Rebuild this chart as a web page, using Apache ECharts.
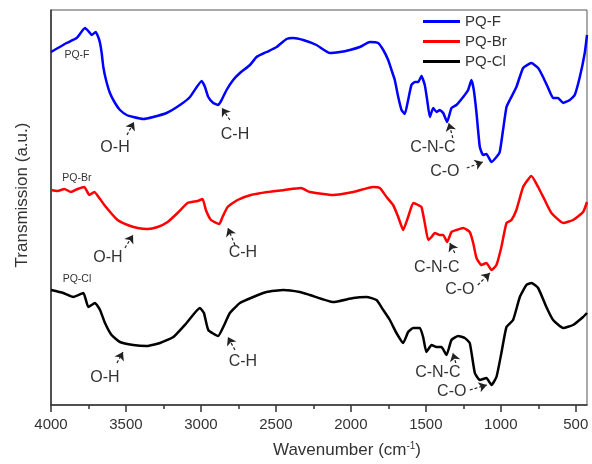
<!DOCTYPE html>
<html>
<head>
<meta charset="utf-8">
<script src="https://cdn.jsdelivr.net/npm/echarts@6/dist/echarts.min.js"></script>
<style>
  html, body { margin: 0; padding: 0; background: #fff; }
  #chart { width: 592px; height: 464px; }
</style>
</head>
<body>
<div id="chart"></div>
<script>
// FTIR transmission spectra, stacked with vertical offsets (arbitrary units)
const seriesNames = ['PQ-F', 'PQ-Br', 'PQ-Cl'];

// PQ-F (blue)
const fWave  = [4000, 3896, 3829, 3773, 3740, 3729, 3702, 3685, 3673, 3662, 3651, 3633, 3607, 3573, 3540, 3495, 3451, 3384, 3318, 3229, 3140, 3073, 2995, 2973, 2951, 2918, 2885, 2862, 2829, 2785, 2740, 2673, 2629, 2562, 2495, 2429, 2385, 2318, 2229, 2140, 2073, 2007, 1940, 1873, 1818, 1784, 1751, 1729, 1707, 1684, 1662, 1640, 1618, 1596, 1573, 1551, 1529, 1507, 1491, 1473, 1451, 1429, 1407, 1384, 1358, 1329, 1296, 1251, 1218, 1196, 1180, 1162, 1140, 1118, 1096, 1062, 1029, 1007, 985, 962, 940, 896, 851, 796, 751, 718, 684, 651, 618, 584, 540, 507, 473, 440, 425];
const fValue = [353, 362, 367, 377, 372, 370, 373, 368, 362, 352, 338, 325, 312, 302, 295, 290, 288, 286, 288, 292, 300, 308, 324, 318, 308, 302, 300, 305, 315, 325, 332, 340, 348, 353, 358, 366, 367, 365, 360, 352, 353, 355, 358, 363, 362, 355, 345, 335, 325, 308, 295, 291, 305, 320, 323, 323, 329, 320, 305, 288, 297, 293, 295, 292, 283, 297, 300, 308, 315, 325, 315, 292, 258, 250, 251, 243, 248, 253, 275, 298, 305, 318, 337, 342, 337, 328, 317, 307, 307, 302, 305, 310, 328, 352, 370];

// PQ-Br (red)
const brWave  = [4000, 3956, 3911, 3867, 3822, 3778, 3744, 3711, 3678, 3644, 3600, 3556, 3489, 3422, 3356, 3289, 3222, 3156, 3089, 3022, 2989, 2967, 2933, 2878, 2856, 2822, 2756, 2667, 2556, 2444, 2333, 2273, 2118, 1984, 1851, 1807, 1762, 1718, 1684, 1651, 1618, 1584, 1551, 1529, 1507, 1484, 1462, 1440, 1407, 1384, 1358, 1329, 1296, 1251, 1207, 1184, 1162, 1129, 1096, 1062, 1029, 996, 962, 929, 896, 851, 796, 751, 707, 662, 584, 518, 451, 425];
const brValue = [215, 214, 216, 213, 216, 218, 210, 213, 207, 200, 192, 185, 180, 177, 176, 178, 183, 192, 202, 204, 206, 195, 185, 181, 188, 198, 205, 210, 213, 215, 217, 213, 210, 213, 218, 217, 208, 200, 188, 175, 188, 202, 200, 198, 182, 165, 168, 172, 170, 170, 163, 173, 175, 177, 173, 162, 147, 140, 142, 135, 140, 158, 182, 185, 195, 218, 229, 218, 205, 192, 182, 185, 193, 203];

// PQ-Cl (black)
const clWave  = [4000, 3918, 3851, 3784, 3751, 3707, 3673, 3640, 3596, 3540, 3451, 3362, 3273, 3184, 3096, 3007, 2980, 2951, 2885, 2851, 2807, 2740, 2651, 2562, 2451, 2340, 2273, 2118, 1984, 1896, 1829, 1784, 1740, 1696, 1651, 1618, 1584, 1540, 1518, 1496, 1462, 1429, 1396, 1362, 1329, 1284, 1240, 1207, 1173, 1140, 1096, 1062, 1029, 996, 962, 918, 873, 829, 796, 751, 696, 651, 584, 518, 451, 425];
const clValue = [115, 112, 108, 112, 98, 102, 95, 82, 70, 63, 60, 59, 62, 68, 82, 97, 92, 75, 69, 78, 92, 102, 108, 113, 115, 113, 110, 103, 107, 108, 105, 95, 85, 72, 62, 73, 77, 77, 68, 53, 60, 58, 58, 50, 65, 69, 67, 62, 32, 25, 27, 20, 28, 52, 78, 85, 108, 120, 122, 117, 98, 85, 77, 80, 88, 92];

// Band assignments: label anchor and arrow (tail -> head) in data coordinates
const fBands = [
  { text: 'O-H',   at: [3573, 257], tail: [3493, 270], head: [3447, 283] },
  { text: 'C-H',   at: [2773, 270], tail: [2807, 285], head: [2860, 297] },
  { text: 'C-N-C', at: [1453, 257], tail: [1320, 267], head: [1347, 282] },
  { text: 'C-O',   at: [1373, 233], tail: [1227, 237], head: [1120, 243] }
];
const brBands = [
  { text: 'O-H',   at: [3620, 147], tail: [3507, 157], head: [3453, 170] },
  { text: 'C-H',   at: [2720, 152], tail: [2773, 160], head: [2820, 177] },
  { text: 'C-N-C', at: [1427, 137], tail: [1307, 152], head: [1340, 162] },
  { text: 'C-O',   at: [1273, 115], tail: [1153, 120], head: [1073, 132] }
];
const clBands = [
  { text: 'O-H',   at: [3640, 27], tail: [3560, 42], head: [3520, 53] },
  { text: 'C-H',   at: [2720, 43], tail: [2773, 55], head: [2820, 68] },
  { text: 'C-N-C', at: [1420, 32], tail: [1300, 42], head: [1320, 52] },
  { text: 'C-O',   at: [1327, 13], tail: [1207, 15], head: [1093, 20] }
];

// Sample tags next to each trace
const tagPos = [[3827, 350], [3827, 227], [3827, 126]];

// Tick values on the wavenumber axis
const majorTicks = [4000, 3500, 3000, 2500, 2000, 1500, 1000, 500];
const minorTicks = [3750, 3250, 2750, 2250, 1750, 1250, 750];

const colors = ['#0000ff', '#ff0000', '#000000'];
const waves = [fWave, brWave, clWave];
const values = [fValue, brValue, clValue];
const bands = [fBands, brBands, clBands];

const textColor = '#333';
const font = 'Liberation Sans, Arial, sans-serif';

function zip(a, b) { return a.map((x, i) => [x, b[i]]); }

const series = seriesNames.map((name, i) => ({
  name: name,
  type: 'line',
  data: zip(waves[i], values[i]),
  showSymbol: false,
  symbol: 'none',
  smooth: 0.15,
  lineStyle: { color: colors[i], width: 2.5, join: 'round' },
  itemStyle: { color: colors[i] },
  z: 3,
  markLine: {
    silent: true,
    symbol: ['none', 'arrow'],
    symbolSize: 8,
    label: { show: false },
    lineStyle: { color: '#222', width: 1.2, type: [3, 2] },
    data: bands[i].map(b => [{ coord: b.tail }, { coord: b.head }])
  },
  markPoint: {
    silent: true,
    symbol: 'circle',
    symbolSize: 0,
    data: bands[i].map(b => ({
      name: b.text, coord: b.at,
      label: { show: true, position: 'inside', formatter: '{b}', color: textColor, fontSize: 16, fontFamily: font }
    })).concat([{
      name: name, coord: tagPos[i],
      label: { show: true, position: 'inside', formatter: '{b}', color: textColor, fontSize: 10.5, fontFamily: font }
    }])
  }
}));

const chart = echarts.init(document.getElementById('chart'), null, { renderer: 'canvas' });
chart.setOption({
  animation: false,
  backgroundColor: '#fff',
  grid: { left: 51, right: 5, top: 10, bottom: 59, show: true, borderColor: '#555', borderWidth: 1 },
  legend: {
    data: seriesNames,
    orient: 'vertical',
    left: 418,
    top: 9,
    icon: 'rect',
    itemWidth: 37,
    itemHeight: 3,
    itemGap: 5,
    textStyle: { color: textColor, fontSize: 15, fontFamily: font, lineHeight: 15 }
  },
  xAxis: [
    {
      type: 'value',
      inverse: true,
      min: 425,
      max: 4000,
      position: 'bottom',
      axisLine: { show: true, lineStyle: { color: '#333', width: 1.5 } },
      axisTick: { show: true, customValues: majorTicks, length: 7, lineStyle: { color: '#333', width: 1.5 } },
      axisLabel: { show: true, customValues: majorTicks, formatter: v => String(v), color: textColor, fontSize: 15, fontFamily: font, margin: 12 },
      splitLine: { show: false },
      name: 'Wavenumber (cm{sup|-1})',
      nameLocation: 'middle',
      nameGap: 36,
      nameTextStyle: {
        color: textColor, fontSize: 17, fontFamily: font, padding: [0, 0, 0, 56],
        rich: { sup: { fontSize: 10, verticalAlign: 'top', padding: [0, 0, 8, 0], color: textColor, fontFamily: font } }
      }
    },
    {
      type: 'value',
      inverse: true,
      min: 425,
      max: 4000,
      position: 'bottom',
      axisLine: { show: false },
      axisTick: { show: true, customValues: minorTicks, length: 4, lineStyle: { color: '#333', width: 1.5 } },
      axisLabel: { show: false },
      splitLine: { show: false }
    }
  ],
  yAxis: {
    type: 'value',
    min: 0,
    max: 395,
    axisLine: { show: true, lineStyle: { color: '#333', width: 1.5 } },
    axisTick: { show: false },
    axisLabel: { show: false },
    splitLine: { show: false }
  },
  graphic: [{
    type: 'text',
    x: 22,
    y: 195,
    rotation: Math.PI / 2,
    style: {
      text: 'Transmission (a.u.)',
      fill: textColor,
      font: '17px ' + font,
      textAlign: 'center',
      textVerticalAlign: 'middle'
    }
  }],
  series: series
});
</script>
</body>
</html>
